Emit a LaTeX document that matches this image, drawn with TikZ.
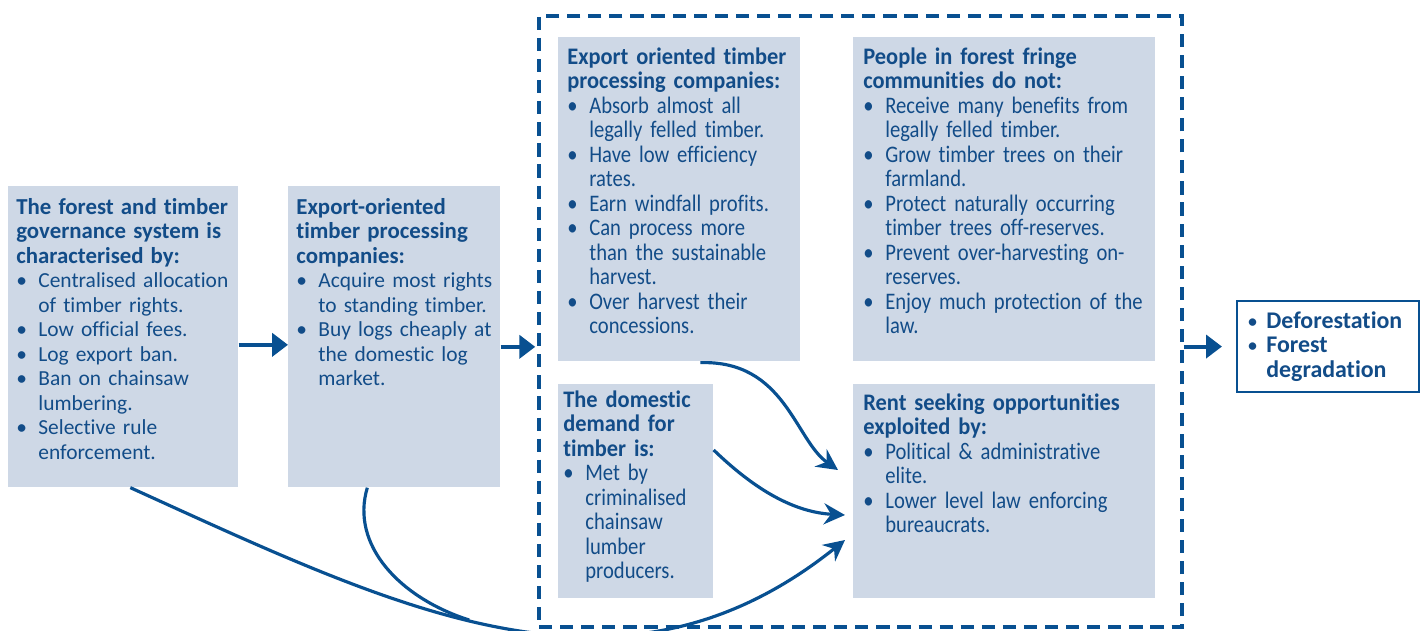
\documentclass[tikz,border=0pt]{standalone}
\usepackage{fontspec}
\setmainfont{Carlito}[Ligatures=NoCommon]
\newfontfamily\condfont[FakeStretch=0.87, Ligatures=NoCommon]{Carlito}
\newfontfamily\condhead[FakeStretch=0.945, Ligatures=NoCommon]{Carlito}
\usetikzlibrary{arrows.meta, positioning, calc}
\definecolor{boxfill}{RGB}{206,216,230}
\definecolor{inkblue}{RGB}{18,76,136}
\definecolor{lineblue}{RGB}{8,80,145}
\setlength{\lineskiplimit}{-10pt}
\newcommand{\itm}{\makebox[0.44cm][l]{\textbullet}}
\newcommand{\cnt}{\hspace*{0.44cm}}
\newcommand{\bhd}[1]{{\fontsize{13}{13.95}\selectfont\bfseries #1}}
\newcommand{\hd}[1]{{\condhead\bfseries #1}}
\newcommand{\obul}{\makebox[0.38cm][l]{\normalfont\fontsize{12}{14}\selectfont\textbullet}}

\begin{document}
\begin{tikzpicture}[x=0.02cm, y=-0.02cm,
				box/.style={fill=boxfill, inner sep=0pt, anchor=north west},
				txt/.style={anchor=north west, inner sep=0pt, align=left, text width=8cm,
					text=inkblue, font=\fontsize{12.2}{13.95}\selectfont},
				ctxt/.style={txt, font=\condfont\fontsize{13.5}{13.95}\selectfont},
				flow/.style={draw=lineblue, line width=2.3pt, -{Triangle[length=9pt, width=13pt]}},
				link/.style={draw=lineblue, line width=1.8pt, -{Stealth[length=12pt, width=12pt, inset=4pt]}}]
				
				\useasboundingbox (0,0) rectangle (1426,630);
				\clip (0,0) rectangle (1426,630);
				
				\node[draw=lineblue, line width=2.3pt, dash pattern=on 7.5pt off 4.5pt, inner sep=0pt,
					minimum width=12.86cm, minimum height=12.22cm, anchor=north west] (frame) at (537,14) {};
				
				\node[box, minimum width=4.6cm, minimum height=6.02cm] (govbox) at (8,186) {};
				\node[txt] (govtxt) at ([shift={(8,12)}]govbox.north west)
					{\bhd{The forest and timber}\\ \bhd{governance system is}\\ \bhd{characterised by:}\\
					\itm Centralised allocation\\ \cnt of timber rights.\\
					\itm Low official fees.\\
					\itm Log export ban.\\
					\itm Ban on chainsaw\\ \cnt lumbering.\\
					\itm Selective rule\\ \cnt enforcement.};
				
				\node[box, minimum width=4.24cm, minimum height=6.02cm] (procbox) at (288,186) {};
				\node[txt] (proctxt) at ([shift={(8,12)}]procbox.north west)
					{\bhd{Export-oriented}\\ \bhd{timber processing}\\ \bhd{companies:}\\
					\itm Acquire most rights\\ \cnt to standing timber.\\
					\itm Buy logs cheaply at\\ \cnt the domestic log\\ \cnt market.};
				
				\node[box, minimum width=4.84cm, minimum height=6.48cm] (expbox) at (558,37) {};
				\node[ctxt] (exptxt) at ([shift={(9,10)}]expbox.north west)
					{\hd{Export oriented timber}\\ \hd{processing companies:}\\
					\itm Absorb almost all\\ \cnt legally felled timber.\\
					\itm Have low efficiency\\ \cnt rates.\\
					\itm Earn windfall profits.\\
					\itm Can process more\\ \cnt than the sustainable\\ \cnt harvest.\\
					\itm Over harvest their\\ \cnt concessions.};
				
				\node[box, minimum width=6.04cm, minimum height=6.48cm] (fringebox) at (853,37) {};
				\node[ctxt] (fringetxt) at ([shift={(10,10)}]fringebox.north west)
					{\hd{People in forest fringe}\\ \hd{communities do not:}\\
					\itm Receive many benefits from\\ \cnt legally felled timber.\\
					\itm Grow timber trees on their\\ \cnt farmland.\\
					\itm Protect naturally occurring\\ \cnt timber trees off-reserves.\\
					\itm Prevent over-harvesting on-\\ \cnt reserves.\\
					\itm Enjoy much protection of the\\ \cnt law.};
				
				\node[box, minimum width=3.1cm, minimum height=4.28cm] (dombox) at (558,384) {};
				\node[ctxt] (domtxt) at ([shift={(5,6)}]dombox.north west)
					{\hd{The domestic}\\ \hd{demand for}\\ \hd{timber is:}\\
					\itm Met by\\ \cnt criminalised\\ \cnt chainsaw\\ \cnt lumber\\ \cnt producers.};
				
				\node[box, minimum width=6.04cm, minimum height=4.28cm] (rentbox) at (853,384) {};
				\node[ctxt] (renttxt) at ([shift={(10,9)}]rentbox.north west)
					{\hd{Rent seeking opportunities}\\ \hd{exploited by:}\\
					\itm Political \& administrative\\ \cnt elite.\\
					\itm Lower level law enforcing\\ \cnt bureaucrats.};
				
				\node[draw=lineblue, line width=1.2pt, fill=white, inner sep=0pt,
					minimum width=3.64cm, minimum height=1.82cm, anchor=north west] (outbox) at (1236,300) {};
				\node[txt, font=\fontsize{13.6}{13.95}\selectfont\bfseries] (outtxt) at ([shift={(11,11)}]outbox.north west)
					{\obul Deforestation\\
					\obul Forest\\
					\hspace*{0.38cm}degradation};
				
				\draw[flow] ($(govbox.east)+(0,8)$) -- ($(procbox.west)+(0,8)$);
				\draw[flow, shorten >=1pt] ($(procbox.east)+(0,10)$) -- ($(procbox.east -| frame.west)+(0,10)$);
				\draw[flow, shorten >=8pt] (frame.east |- outbox.west) -- (outbox.west);
				
				\draw[link] ($(expbox.south)+(21,1)$) .. controls (785,360) and (795,440) .. ($(rentbox.north west)+(-15,86)$);
				\draw[link] ($(dombox.north east)+(0,66)$) .. controls (750,485) and (790,512) .. ($(rentbox.north west)+(-8,131)$);
				\draw[link] ($(govbox.south)+(7,0)$) .. controls (400,610) and (620,720) .. ($(rentbox.north west)+(-8,156)$)
					coordinate[pos=0.45] (merge);
				\draw[draw=lineblue, line width=1.8pt] ($(procbox.south)+(-27,0)$) .. controls (350,545) and (400,598) .. (merge);
			\end{tikzpicture}
\end{document}
